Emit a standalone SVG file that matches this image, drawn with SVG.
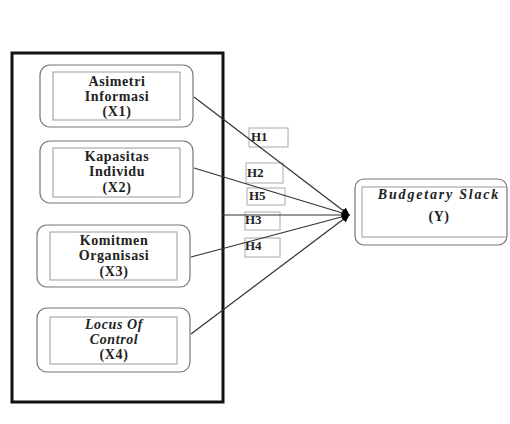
<svg xmlns="http://www.w3.org/2000/svg" width="510" height="424" viewBox="0 0 510 424">
<defs>
<style>
.t{font-family:"Liberation Serif","Times New Roman",serif;font-weight:bold;font-size:14px;fill:#222;text-anchor:middle;letter-spacing:0.6px}
.i{font-style:italic}
.w{letter-spacing:1.8px}
.o{fill:#fff;stroke:#777;stroke-width:1.2}
.in{fill:none;stroke:#999;stroke-width:1}
.lb{fill:#fff;stroke:#aaa;stroke-width:1}
.h{font-family:"Liberation Serif","Times New Roman",serif;font-weight:bold;font-size:13px;fill:#222}
.c{stroke:#333;stroke-width:1.2;fill:none}
</style>
<marker id="ah" viewBox="0 0 10 10" refX="9" refY="5" markerWidth="8" markerHeight="8" markerUnits="userSpaceOnUse" orient="auto">
<path d="M0,0 L10,5 L0,10 z" fill="#000"/>
</marker>
</defs>
<rect width="510" height="424" fill="#fff"/>
<rect id="outer" x="12" y="53" width="211" height="349" fill="none" stroke="#111" stroke-width="3"/>
<g id="labels">
<rect class="lb" x="249" y="128" width="39" height="19"/>
<rect class="lb" x="246" y="163" width="37" height="20"/>
<rect class="lb" x="247" y="188" width="38" height="17"/>
<rect class="lb" x="245" y="212" width="35" height="18"/>
<rect class="lb" x="245" y="238" width="35" height="19"/>
</g>
<g id="connectors">
<line class="c" x1="194" y1="97" x2="349" y2="215" marker-end="url(#ah)"/>
<line class="c" x1="194" y1="168" x2="349" y2="215" marker-end="url(#ah)"/>
<line class="c" x1="222" y1="215" x2="349" y2="215" marker-end="url(#ah)"/>
<line class="c" x1="191" y1="257" x2="349" y2="215" marker-end="url(#ah)"/>
<line class="c" x1="191" y1="334" x2="349" y2="215" marker-end="url(#ah)"/>
</g>
<g id="labeltext">
<text class="h" x="251" y="141">H1</text>
<text class="h" x="247" y="177">H2</text>
<text class="h" x="249" y="200">H5</text>
<text class="h" x="245" y="224">H3</text>
<text class="h" x="245" y="250">H4</text>
</g>
<g id="x1">
<rect class="o" x="40" y="65" width="153" height="62" rx="10"/>
<rect class="in" x="53" y="72" width="127" height="48"/>
<text class="t" x="117" y="86">Asimetri</text>
<text class="t" x="117" y="101">Informasi</text>
<text class="t" x="117" y="116">(X1)</text>
</g>
<g id="x2">
<rect class="o" x="40" y="141" width="153" height="62" rx="10"/>
<rect class="in" x="53" y="148" width="127" height="49"/>
<text class="t" x="117" y="161">Kapasitas</text>
<text class="t" x="117" y="176">Individu</text>
<text class="t" x="117" y="192">(X2)</text>
</g>
<g id="x3">
<rect class="o" x="37" y="225" width="153" height="62" rx="10"/>
<rect class="in" x="50" y="232" width="127" height="48"/>
<text class="t" x="114" y="245">Komitmen</text>
<text class="t" x="114" y="260">Organisasi</text>
<text class="t" x="114" y="276">(X3)</text>
</g>
<g id="x4">
<rect class="o" x="37" y="308" width="153" height="64" rx="10"/>
<rect class="in" x="50" y="317" width="127" height="47"/>
<text class="t i" x="114" y="329">Locus Of</text>
<text class="t i" x="114" y="344">Control</text>
<text class="t" x="114" y="359">(X4)</text>
</g>
<g id="y">
<rect class="o" x="355" y="179" width="152" height="66" rx="9"/>
<line class="in" x1="362" y1="187" x2="507" y2="187"/>
<line class="in" x1="362" y1="237" x2="507" y2="237"/>
<line class="in" x1="362" y1="187" x2="362" y2="237"/>
<text class="t i w" x="439" y="199">Budgetary Slack</text>
<text class="t" x="439" y="221">(Y)</text>
</g>
</svg>
